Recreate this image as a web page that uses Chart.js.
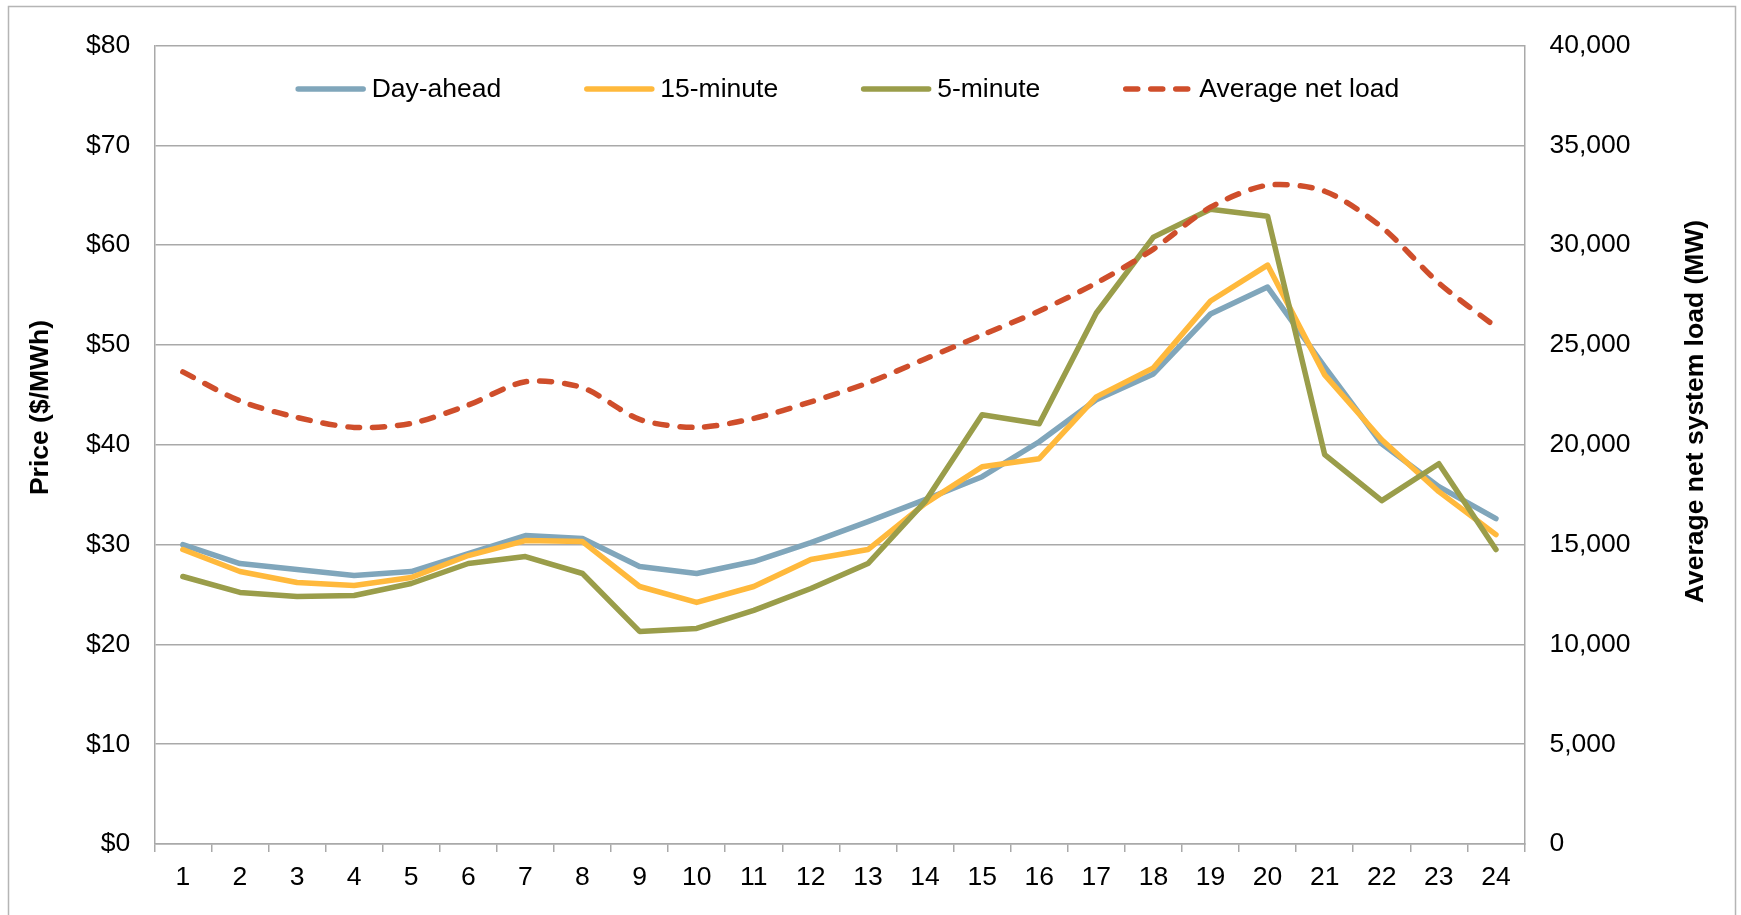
<!doctype html>
<html lang="en">
<head>
<meta charset="utf-8">
<title>Hourly prices and average net load</title>
<style>
  html, body { margin: 0; padding: 0; background: #fff; }
  #wrap { position: relative; width: 1741px; height: 915px; overflow: hidden; }
</style>
</head>
<body>
<div id="wrap"><canvas id="priceChart" width="1741" height="915"></canvas></div>
<script src="https://cdn.jsdelivr.net/npm/chart.js"></script>
<script>
// hour of day
const hours = ['1', '2', '3', '4', '5', '6', '7', '8', '9', '10', '11', '12',
               '13', '14', '15', '16', '17', '18', '19', '20', '21', '22', '23', '24'];

// prices, $/MWh
const dayAhead = [30.0, 28.1, 27.5, 26.9, 27.3, 29.1, 30.9, 30.6, 27.8, 27.1, 28.3, 30.2,
                  32.3, 34.5, 36.8, 40.3, 44.5, 47.1, 53.1, 55.8, 47.8, 40.1, 35.8, 32.6];
const fifteenMin = [29.5, 27.3, 26.2, 25.9, 26.7, 28.9, 30.4, 30.3, 25.8, 24.2, 25.8, 28.5,
                    29.5, 34.1, 37.8, 38.6, 44.8, 47.7, 54.4, 58.0, 47.0, 40.5, 35.3, 31.0];
const fiveMin = [26.8, 25.2, 24.8, 24.9, 26.1, 28.1, 28.8, 27.1, 21.3, 21.6, 23.4, 25.6,
                 28.1, 34.3, 43.0, 42.1, 53.2, 60.8, 63.6, 62.9, 39.0, 34.4, 38.1, 29.5];

// average net system load, MW
const netLoad = [23650, 22200, 21370, 20870, 21070, 21990, 23160, 22860, 21270, 20870, 21320, 22150,
                 23100, 24300, 25500, 26700, 28100, 29800, 31900, 33000, 32700, 30900, 28100, 25900];

// axis ticks
const priceMin = 0, priceMax = 80, priceStep = 10;
const loadMin = 0, loadMax = 40000, loadStep = 5000;

const priceTitle = 'Price ($/MWh)';
const loadTitle = 'Average net system load (MW)';

const FONT = '"Liberation Sans", Arial, Helvetica, sans-serif';
const GRID = '#a9a9a9';

// legend sits inside the plot, like the original
const insideLegend = {
  id: 'insideLegend',
  afterDatasetsDraw(chart) {
    const ctx = chart.ctx;
    const area = chart.chartArea;
    const sets = chart.data.datasets;
    const lineLen = 70, lineGap = 6, itemGap = 83;
    ctx.save();
    ctx.font = '26.5px ' + FONT;
    const widths = sets.map(ds => ctx.measureText(ds.label).width);
    const total = widths.reduce((s, w) => s + lineLen + lineGap + w, 0) + itemGap * (sets.length - 1);
    let x = (area.left + area.right) / 2 + 8 - total / 2;
    const y = area.top + 43.5;
    sets.forEach((ds, i) => {
      ctx.strokeStyle = ds.borderColor;
      ctx.lineWidth = 5.5;
      ctx.lineCap = 'round';
      ctx.setLineDash(ds.borderDash || []);
      ctx.beginPath();
      ctx.moveTo(x + 2.5, y);
      ctx.lineTo(x + lineLen - 2.5, y);
      ctx.stroke();
      ctx.setLineDash([]);
      ctx.fillStyle = '#000';
      ctx.textBaseline = 'middle';
      ctx.fillText(ds.label, x + lineLen + lineGap, y + 1);
      x += lineLen + lineGap + widths[i] + itemGap;
    });
    ctx.restore();
  }
};

// both axis titles read bottom-to-top, as in the original
const axisTitles = {
  id: 'axisTitles',
  afterDraw(chart) {
    const ctx = chart.ctx;
    const area = chart.chartArea;
    ctx.save();
    ctx.font = 'bold 26.5px ' + FONT;
    ctx.fillStyle = '#000';
    ctx.textAlign = 'center';
    ctx.textBaseline = 'middle';
    [[41, area.top + 362, priceTitle], [1696, area.top + 366, loadTitle]].forEach(([x, y, t]) => {
      ctx.save();
      ctx.translate(x, y);
      ctx.rotate(-Math.PI / 2);
      ctx.fillText(t, 0, 0);
      ctx.restore();
    });
    // thin frame around the whole chart
    ctx.strokeStyle = '#b5b5b5';
    ctx.lineWidth = 1.5;
    ctx.strokeRect(8.5, 6.5, 1727, 1000);
    ctx.restore();
  }
};

new Chart(document.getElementById('priceChart'), {
  type: 'line',
  data: {
    labels: hours,
    datasets: [
      { label: 'Day-ahead', data: dayAhead, yAxisID: 'y', borderColor: '#80a6bb', order: 4 },
      { label: '15-minute', data: fifteenMin, yAxisID: 'y', borderColor: '#ffb93c', order: 3 },
      { label: '5-minute', data: fiveMin, yAxisID: 'y', borderColor: '#9a9d4a', order: 2 },
      { label: 'Average net load', data: netLoad, yAxisID: 'y1', borderColor: '#cf4e2b',
        borderDash: [12, 13], tension: 0.28, order: 1 }
    ]
  },
  options: {
    responsive: false,
    animation: false,
    devicePixelRatio: 1,
    layout: { padding: { top: 45.5, left: 0, right: 0, bottom: 0 } },
    elements: {
      line: { borderWidth: 5.5, tension: 0, borderCapStyle: 'round', borderJoinStyle: 'round', fill: false },
      point: { radius: 0, hoverRadius: 0 }
    },
    plugins: {
      legend: { display: false },
      tooltip: { enabled: false }
    },
    scales: {
      x: {
        offset: true,
        grid: { offset: true, drawOnChartArea: false, drawTicks: true, tickLength: 8, color: GRID, lineWidth: 1.5 },
        border: { display: true, color: GRID, width: 1.5 },
        ticks: { color: '#000', font: { family: FONT, size: 26.5 }, padding: 10, maxRotation: 0, autoSkip: false },
        afterFit: (scale) => { scale.height = 71; }
      },
      y: {
        position: 'left',
        min: priceMin, max: priceMax,
        grid: { color: GRID, lineWidth: 1.5, drawTicks: false },
        border: { display: true, color: GRID, width: 1.5 },
        ticks: { stepSize: priceStep, color: '#000', font: { family: FONT, size: 26.5 }, padding: 24,
                 callback: (v) => '$' + v },
        afterFit: (scale) => { scale.width = 154.3; }
      },
      y1: {
        position: 'right',
        min: loadMin, max: loadMax,
        grid: { drawOnChartArea: false, drawTicks: false },
        border: { display: true, color: GRID, width: 1.5 },
        ticks: { stepSize: loadStep, color: '#000', font: { family: FONT, size: 26.5 }, padding: 25,
                 callback: (v) => v.toLocaleString('en-US') },
        afterFit: (scale) => { scale.width = 216.5; }
      }
    }
  },
  plugins: [insideLegend, axisTitles]
});
</script>
</body>
</html>
